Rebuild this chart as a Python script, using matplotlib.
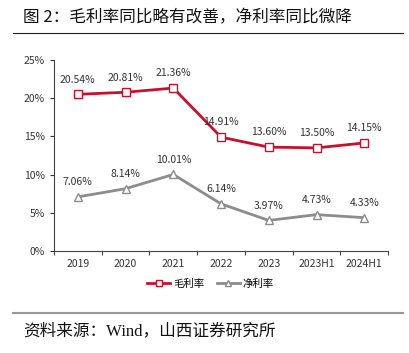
import matplotlib
matplotlib.use("Agg")
import matplotlib.pyplot as plt
from matplotlib.lines import Line2D
import numpy as np

plt.rcParams['font.family'] = ['Noto Sans CJK SC', 'DejaVu Sans']

categories = ["2019", "2020", "2021", "2022", "2023", "2023H1", "2024H1"]
gross_margin = [20.54, 20.81, 21.36, 14.91, 13.60, 13.50, 14.15]
net_margin = [7.06, 8.14, 10.01, 6.14, 3.97, 4.73, 4.33]
yticks = [0, 5, 10, 15, 20, 25]

title = "图 2：毛利率同比略有改善，净利率同比微降"
source = "资料来源：Wind，山西证券研究所"

red = "#C8102E"
gray = "#8C8C8C"

fig = plt.figure(figsize=(4.09, 3.53), dpi=100)
ax = fig.add_axes([0.132, 0.290, 0.817, 0.539])

x = np.arange(len(categories))
ax.plot(x, gross_margin, color=red, lw=2.0, marker="s", ms=6,
        mfc="white", mec=red, mew=1.0, zorder=3)
ax.plot(x, net_margin, color=gray, lw=2.0, marker="^", ms=6,
        mfc="white", mec=gray, mew=1.0, zorder=3)

for xi, v in zip(x, gross_margin):
    ax.annotate(f"{v:.2f}%", (xi, v), xytext=(0, 7), textcoords="offset points",
                ha="center", va="bottom", fontsize=7.5, color="#333333")
for xi, v in zip(x, net_margin):
    ax.annotate(f"{v:.2f}%", (xi, v), xytext=(0, 7), textcoords="offset points",
                ha="center", va="bottom", fontsize=7.5, color="#333333")

ax.set_xlim(-0.5, len(categories) - 0.5)
ax.set_ylim(0, 25)
ax.set_yticks(yticks)
ax.set_yticklabels([f"{t}%" for t in yticks])
ax.set_xticks(x)
ax.set_xticklabels(categories)
ax.set_xticks(np.arange(-0.5, len(categories)), minor=True)
ax.tick_params(axis="x", which="major", length=0, labelsize=7.5, pad=6, colors="#333333")
ax.tick_params(axis="x", which="minor", length=3, width=0.8, color="#444444")
ax.tick_params(axis="y", length=3, width=0.8, labelsize=7.5, colors="#333333")
for s in ["top", "right"]:
    ax.spines[s].set_visible(False)
for s in ["left", "bottom"]:
    ax.spines[s].set_color("#444444")
    ax.spines[s].set_linewidth(0.8)

handles = [
    Line2D([0], [0], color=red, lw=2.0, marker="s", ms=5, mfc="white", mec=red),
    Line2D([0], [0], color=gray, lw=2.0, marker="^", ms=5, mfc="white", mec=gray),
]
fig.legend(handles, ["毛利率", "净利率"], loc="center", bbox_to_anchor=(0.515, 1 - 284 / 353),
           ncol=2, frameon=False, fontsize=7.5, handlelength=2.2, columnspacing=1.2,
           handletextpad=0.3)

fig.text(23 / 409, 1 - 18 / 353, title, fontsize=12, va="center", ha="left", color="#111111")
fig.add_artist(Line2D([13 / 409, 403 / 409], [1 - 33 / 353, 1 - 33 / 353],
                      color="#222222", lw=0.8))
fig.add_artist(Line2D([13 / 409, 403 / 409], [1 - 313 / 353, 1 - 313 / 353],
                      color="#999999", lw=1.5))
fig.text(23 / 409, 1 - 331 / 353, source, fontsize=12, va="center", ha="left", color="#111111",
         family=['Liberation Serif', 'Noto Sans CJK SC'])

fig.savefig("out.png", dpi=100)
